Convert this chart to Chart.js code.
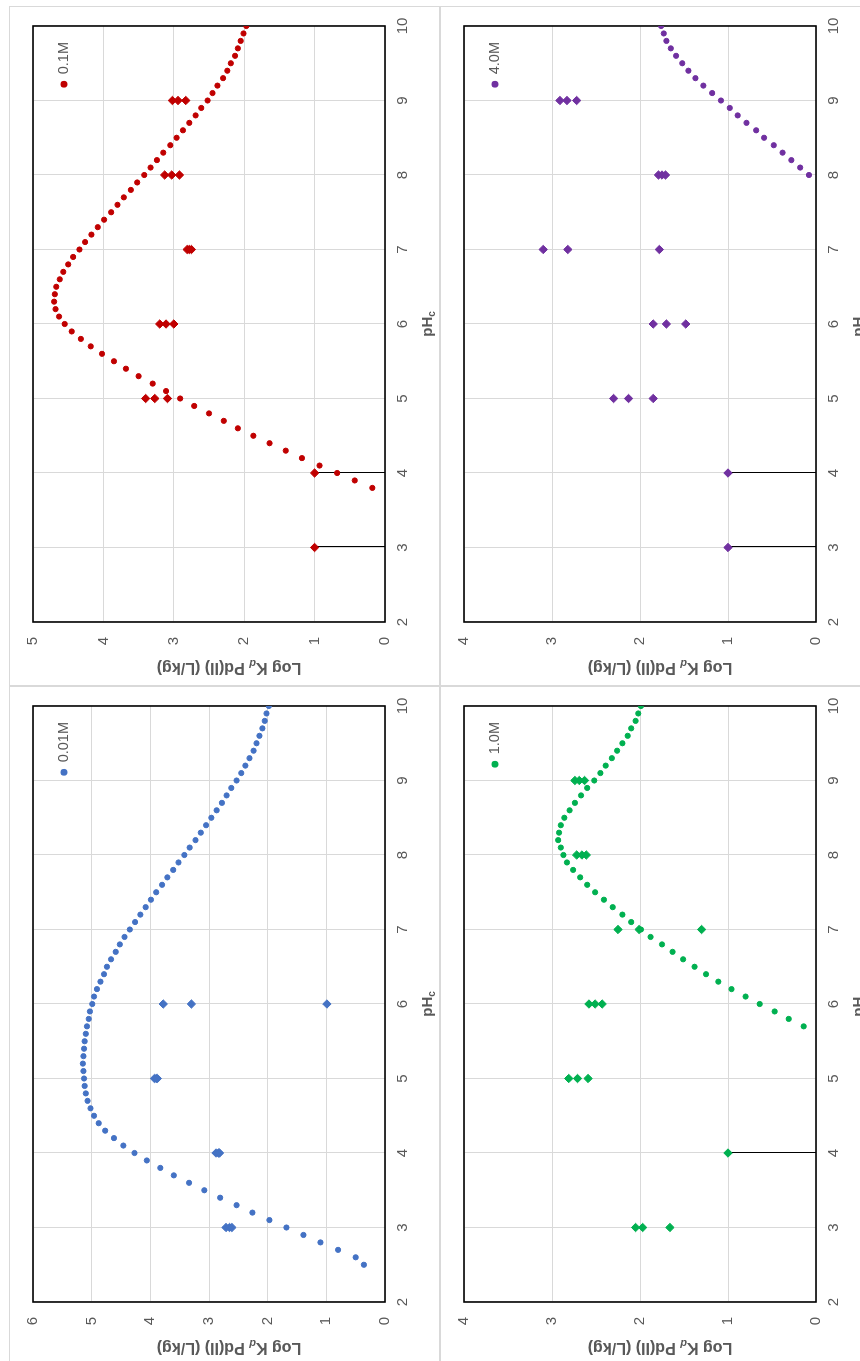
<!DOCTYPE html>
<html>
<head>
<meta charset="utf-8">
<title>Pd(II) sorption vs pHc</title>
<script src="https://cdn.jsdelivr.net/npm/chart.js@4.4.1/dist/chart.umd.min.js"></script>
<style>
  html, body { margin: 0; padding: 0; background: #fff; overflow: hidden; }
  /* the four panels are laid out landscape, then the sheet is turned a quarter to the left */
  #sheet {
    position: absolute; left: 0; top: 0;
    width: 1361px; height: 860px;
    transform-origin: 0 0;
    transform: translate(0, 1361px) rotate(-90deg);
  }
  .tile { position: absolute; width: 680px; height: 431px; box-shadow: inset 0 0 0 1px #d9d9d9; }
  .tile canvas { position: absolute; left: 0; top: 0; }
</style>
</head>
<body>
<div id="sheet">
  <div class="tile" style="left:-5px; top:9px;"><canvas id="c001" width="680" height="431"></canvas></div>
  <div class="tile" style="left:675px; top:9px;"><canvas id="c01" width="680" height="431"></canvas></div>
  <div class="tile" style="left:-5px; top:440px;"><canvas id="c1" width="680" height="431"></canvas></div>
  <div class="tile" style="left:675px; top:440px;"><canvas id="c4" width="680" height="431"></canvas></div>
</div>

<script>
// ---- 0.01M ----
var fitPH_001 = [2.5, 2.6, 2.7, 2.8, 2.9, 3.0, 3.1, 3.2, 3.3, 3.4, 3.5, 3.6, 3.7, 3.8, 3.9,
  4.0, 4.1, 4.2, 4.3, 4.4, 4.5, 4.6, 4.7, 4.8, 4.9, 5.0, 5.1, 5.2, 5.3, 5.4, 5.5, 5.6, 5.7, 5.8, 5.9,
  6.0, 6.1, 6.2, 6.3, 6.4, 6.5, 6.6, 6.7, 6.8, 6.9, 7.0, 7.1, 7.2, 7.3, 7.4, 7.5, 7.6, 7.7, 7.8, 7.9,
  8.0, 8.1, 8.2, 8.3, 8.4, 8.5, 8.6, 8.7, 8.8, 8.9, 9.0, 9.1, 9.2, 9.3, 9.4, 9.5, 9.6, 9.7, 9.8, 9.9, 10.0];
var fitKd_001 = [0.36, 0.50, 0.80, 1.10, 1.39, 1.68, 1.97, 2.26, 2.53, 2.81, 3.08, 3.34, 3.60, 3.83, 4.06,
  4.27, 4.46, 4.62, 4.77, 4.88, 4.96, 5.02, 5.07, 5.10, 5.12, 5.13, 5.14, 5.15, 5.14, 5.13, 5.12, 5.10, 5.08, 5.05, 5.03,
  4.99, 4.96, 4.91, 4.85, 4.79, 4.74, 4.67, 4.59, 4.52, 4.44, 4.35, 4.26, 4.17, 4.08, 3.99, 3.90, 3.80, 3.71, 3.61, 3.52,
  3.42, 3.33, 3.23, 3.14, 3.05, 2.96, 2.87, 2.78, 2.70, 2.62, 2.53, 2.45, 2.38, 2.31, 2.24, 2.19, 2.14, 2.09, 2.05, 2.02, 1.98];
var expPH_001 = [3, 3, 3, 4, 4, 4, 5, 5, 5, 6, 6, 6];
var expKd_001 = [2.71, 2.65, 2.61, 2.88, 2.84, 2.82, 3.93, 3.90, 3.88, 3.78, 3.30, 0.99];
var barPH_001 = [];
var barKd_001 = [];
var barMinus_001 = [];

// ---- 0.1M ----
var fitPH_01 = [3.8, 3.9, 4.0, 4.1, 4.2, 4.3, 4.4, 4.5, 4.6, 4.7, 4.8, 4.9, 5.0, 5.1, 5.2, 5.3, 5.4, 5.5, 5.6, 5.7, 5.8, 5.9,
  6.0, 6.1, 6.2, 6.3, 6.4, 6.5, 6.6, 6.7, 6.8, 6.9, 7.0, 7.1, 7.2, 7.3, 7.4, 7.5, 7.6, 7.7, 7.8, 7.9,
  8.0, 8.1, 8.2, 8.3, 8.4, 8.5, 8.6, 8.7, 8.8, 8.9, 9.0, 9.1, 9.2, 9.3, 9.4, 9.5, 9.6, 9.7, 9.8, 9.9, 10.0];
var fitKd_01 = [0.18, 0.43, 0.68, 0.93, 1.18, 1.41, 1.64, 1.87, 2.09, 2.29, 2.50, 2.71, 2.91, 3.11, 3.30, 3.50, 3.68, 3.85, 4.02, 4.18, 4.32, 4.45,
  4.55, 4.63, 4.68, 4.70, 4.69, 4.67, 4.62, 4.57, 4.50, 4.43, 4.34, 4.26, 4.17, 4.08, 3.99, 3.89, 3.80, 3.71, 3.61, 3.52,
  3.42, 3.33, 3.24, 3.15, 3.05, 2.96, 2.87, 2.78, 2.69, 2.61, 2.52, 2.45, 2.38, 2.30, 2.24, 2.19, 2.13, 2.09, 2.05, 2.01, 1.97];
var expPH_01 = [3, 4, 5, 5, 5, 6, 6, 6, 7, 7, 7, 8, 8, 8, 9, 9, 9];
var expKd_01 = [1.0, 1.0, 3.40, 3.27, 3.09, 3.20, 3.11, 3.00, 2.81, 2.78, 2.75, 3.13, 3.03, 2.92, 3.02, 2.94, 2.83];
var barPH_01 = [3, 4];
var barKd_01 = [1.0, 1.0];
var barMinus_01 = [1.0, 1.0];

// ---- 1.0M ----
var fitPH_1 = [5.7, 5.8, 5.9, 6.0, 6.1, 6.2, 6.3, 6.4, 6.5, 6.6, 6.7, 6.8, 6.9, 7.0, 7.1, 7.2, 7.3, 7.4, 7.5, 7.6, 7.7, 7.8, 7.9,
  8.0, 8.1, 8.2, 8.3, 8.4, 8.5, 8.6, 8.7, 8.8, 8.9, 9.0, 9.1, 9.2, 9.3, 9.4, 9.5, 9.6, 9.7, 9.8, 9.9, 10.0];
var fitKd_1 = [0.14, 0.31, 0.47, 0.64, 0.80, 0.96, 1.11, 1.25, 1.38, 1.51, 1.63, 1.75, 1.88, 1.99, 2.10, 2.20, 2.31, 2.41, 2.51, 2.60, 2.68, 2.76, 2.83,
  2.87, 2.90, 2.93, 2.92, 2.90, 2.86, 2.80, 2.74, 2.67, 2.60, 2.52, 2.45, 2.39, 2.32, 2.26, 2.20, 2.14, 2.10, 2.05, 2.02, 1.99];
var expPH_1 = [3, 3, 3, 4, 5, 5, 5, 6, 6, 6, 7, 7, 7, 8, 8, 8, 9, 9, 9];
var expKd_1 = [2.05, 1.97, 1.66, 1.0, 2.81, 2.71, 2.59, 2.58, 2.51, 2.43, 2.25, 2.01, 1.30, 2.72, 2.66, 2.61, 2.74, 2.69, 2.63];
var barPH_1 = [4];
var barKd_1 = [1.0];
var barMinus_1 = [1.0];

// ---- 4.0M ----
var fitPH_4 = [8.0, 8.1, 8.2, 8.3, 8.4, 8.5, 8.6, 8.7, 8.8, 8.9, 9.0, 9.1, 9.2, 9.3, 9.4, 9.5, 9.6, 9.7, 9.8, 9.9, 10.0];
var fitKd_4 = [0.08, 0.18, 0.28, 0.38, 0.48, 0.59, 0.68, 0.79, 0.89, 0.98, 1.08, 1.18, 1.28, 1.37, 1.45, 1.52, 1.59, 1.65, 1.70, 1.73, 1.76];
var expPH_4 = [3, 4, 5, 5, 5, 6, 6, 6, 7, 7, 7, 8, 8, 8, 9, 9, 9];
var expKd_4 = [1.0, 1.0, 2.30, 2.13, 1.85, 1.85, 1.70, 1.48, 3.10, 2.82, 1.78, 1.79, 1.75, 1.71, 2.91, 2.83, 2.72];
var barPH_4 = [3, 4];
var barKd_4 = [1.0, 1.0];
var barMinus_4 = [1.0, 1.0];

var pHTicks = [2, 3, 4, 5, 6, 7, 8, 9, 10];

var FONT = "'Liberation Sans', Arial, sans-serif";
var GREY = '#595959';

function xy(xs, ys) {
    var out = [];
    for (var i = 0; i < xs.length; i++) out.push({ x: xs[i], y: ys[i] });
    return out;
}

// draws text pieces [text, font, dy] one after another, centred on 0
function drawRuns(c, runs) {
    var total = 0, i;
    for (i = 0; i < runs.length; i++) { c.font = runs[i][1]; total += c.measureText(runs[i][0]).width; }
    var x = -total / 2;
    for (i = 0; i < runs.length; i++) {
        c.font = runs[i][1];
        c.fillText(runs[i][0], x, runs[i][2]);
        x += c.measureText(runs[i][0]).width;
    }
}

function panel(id, label, color, yMax, fitPH, fitKd, expPH, expKd, barPH, barKd, barMinus) {
    // plot frame plus the one-sided error bars (value down to zero)
    var under = {
        id: 'under',
        beforeDatasetsDraw: function(chart) {
            var a = chart.chartArea, c = chart.ctx;
            var sx = chart.scales.x, sy = chart.scales.y;
            c.save();
            c.strokeStyle = '#000';
            c.lineWidth = 1;
            for (var i = 0; i < barPH.length; i++) {
                var px = Math.round(sx.getPixelForValue(barPH[i])) + 0.5;
                c.beginPath();
                c.moveTo(px, sy.getPixelForValue(barKd[i]));
                c.lineTo(px, sy.getPixelForValue(barKd[i] - barMinus[i]));
                c.stroke();
            }
            c.lineWidth = 1.6;
            c.strokeRect(a.left, a.top, a.right - a.left, a.bottom - a.top);
            c.restore();
        }
    };

    // axis titles (with subscripts) and the single-entry legend inside the plot
    var labels = {
        id: 'labels',
        afterDraw: function(chart) {
            var a = chart.chartArea, c = chart.ctx;
            c.save();
            c.fillStyle = GREY;
            c.textBaseline = 'middle';
            c.textAlign = 'left';

            c.save();
            c.translate(19, 220);
            c.rotate(-Math.PI / 2);
            drawRuns(c, [
                ['Log K', 'bold 16px ' + FONT, 0],
                ['d', 'italic bold 11px ' + FONT, 4],
                [' Pd(II) (L/kg)', 'bold 16px ' + FONT, 0]
            ]);
            c.restore();

            c.save();
            c.translate((a.left + a.right) / 2, 419);
            drawRuns(c, [
                ['pH', 'bold 15px ' + FONT, 0],
                ['c', 'bold 10px ' + FONT, 4]
            ]);
            c.restore();

            c.font = '14.5px ' + FONT;
            c.textAlign = 'right';
            var tx = a.right - 16, ty = a.top + 31;
            var tw = c.measureText(label).width;
            c.fillText(label, tx, ty);
            c.beginPath();
            c.arc(tx - tw - 10, ty, 3.4, 0, Math.PI * 2);
            c.fillStyle = color;
            c.fill();
            c.restore();
        }
    };

    var ctx = document.getElementById(id).getContext('2d');
    return new Chart(ctx, {
        type: 'scatter',
        data: {
            datasets: [{
                label: label,
                data: xy(fitPH, fitKd),
                pointStyle: 'circle',
                pointRadius: 2.6,
                borderWidth: 1,
                backgroundColor: color,
                borderColor: color
            }, {
                label: label + ' data',
                data: xy(expPH, expKd),
                pointStyle: 'rectRot',
                pointRadius: 4.2,
                borderWidth: 1,
                backgroundColor: color,
                borderColor: color
            }]
        },
        options: {
            responsive: false,
            animation: false,
            events: [],
            layout: { padding: { left: 20, right: 20, top: 22, bottom: 10 } },
            plugins: { legend: { display: false }, tooltip: { enabled: false } },
            scales: {
                x: {
                    type: 'linear',
                    min: pHTicks[0],
                    max: pHTicks[pHTicks.length - 1],
                    afterBuildTicks: function(s) { s.ticks = pHTicks.map(function(v) { return { value: v }; }); },
                    ticks: { color: GREY, font: { family: FONT, size: 15 }, padding: 9 },
                    grid: { color: '#d9d9d9', lineWidth: 1, drawTicks: false },
                    border: { display: false },
                    afterFit: function(s) { s.height = 45; }
                },
                y: {
                    min: 0,
                    max: yMax,
                    ticks: { stepSize: 1, color: GREY, font: { family: FONT, size: 15 }, padding: 15 },
                    grid: { color: '#d9d9d9', lineWidth: 1, drawTicks: false },
                    border: { display: false },
                    afterFit: function(s) { s.width = 44; }
                }
            }
        },
        plugins: [under, labels]
    });
}

panel('c001', '0.01M', '#4472C4', 6, fitPH_001, fitKd_001, expPH_001, expKd_001, barPH_001, barKd_001, barMinus_001);
panel('c01', '0.1M', '#C00000', 5, fitPH_01, fitKd_01, expPH_01, expKd_01, barPH_01, barKd_01, barMinus_01);
panel('c1', '1.0M', '#00B050', 4, fitPH_1, fitKd_1, expPH_1, expKd_1, barPH_1, barKd_1, barMinus_1);
panel('c4', '4.0M', '#7030A0', 4, fitPH_4, fitKd_4, expPH_4, expKd_4, barPH_4, barKd_4, barMinus_4);
</script>
</body>
</html>
